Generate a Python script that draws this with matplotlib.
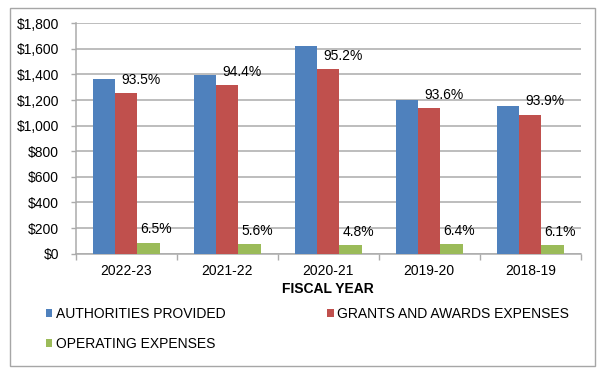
import numpy as np
import matplotlib
matplotlib.use('Agg')
import matplotlib.pyplot as plt
from matplotlib.patches import Rectangle

plt.rcParams['font.family'] = ['Liberation Sans', 'DejaVu Sans']

# Data
years = ['2022-23', '2021-22', '2020-21', '2019-20', '2018-19']
authorities = [1362, 1394, 1625, 1201, 1156]
grants = [1255, 1318, 1445, 1136, 1086]
operating = [86, 76, 70, 73, 68]
grants_pct = ['93.5%', '94.4%', '95.2%', '93.6%', '93.9%']
operating_pct = ['6.5%', '5.6%', '4.8%', '6.4%', '6.1%']

blue = '#4F81BD'
red = '#C0504D'
green = '#9BBB59'
grid_gray = '#ABABAB'

fig = plt.figure(figsize=(6.05, 3.75), dpi=100)
ax = fig.add_axes([75.7 / 605, 1 - 253.7 / 375, 505 / 605, 230.4 / 375])

x = np.arange(len(years))
w = 0.221
b1 = ax.bar(x - w, authorities, w, color=blue, label='AUTHORITIES PROVIDED', zorder=3)
b2 = ax.bar(x, grants, w, color=red, label='GRANTS AND AWARDS EXPENSES', zorder=3)
b3 = ax.bar(x + w, operating, w, color=green, label='OPERATING EXPENSES', zorder=3)

# percentage labels
for i in range(len(years)):
    ax.annotate(grants_pct[i], xy=(x[i], grants[i]), xytext=(10.4, 9.5),
                textcoords='offset points', ha='center', va='center', fontsize=10, zorder=4)
    ax.annotate(operating_pct[i], xy=(x[i], operating[i]), xytext=(21.6, 9.5),
                textcoords='offset points', ha='center', va='center', fontsize=10, zorder=4)

ax.set_xlim(-0.5, len(years) - 0.5)
ax.set_ylim(0, 1800)
ax.set_yticks(np.arange(0, 1801, 200))
ax.set_yticklabels(['${:,}'.format(v) for v in range(0, 1801, 200)], fontsize=10)
ax.yaxis.grid(True, color=grid_gray, linewidth=1.1, zorder=0)

ax.set_xticks(x)
ax.set_xticklabels(years, fontsize=10)
ax.set_xticks(np.arange(-0.5, len(years)), minor=True)
ax.tick_params(axis='x', which='major', length=0, pad=7.5)
ax.tick_params(axis='x', which='minor', length=4, color=grid_gray, width=1)
ax.tick_params(axis='y', length=3.5, color=grid_gray, width=1, pad=8.5)

for s in ['top', 'right']:
    ax.spines[s].set_visible(False)
for s in ['left', 'bottom']:
    ax.spines[s].set_color(grid_gray)
    ax.spines[s].set_linewidth(1.1)

fig.text(328 / 605, 1 - 289 / 375, 'FISCAL YEAR', ha='center', va='center',
         fontsize=10, fontweight='bold')

# legend filled column-wise, so order gives rows: auth+grants, then operating
handles = [b1, b3, b2]
labels = [h.get_label() for h in handles]
leg = fig.legend(handles, labels, loc='upper left', bbox_to_anchor=(46 / 605, 1 - 307 / 375),
                 ncol=2, frameon=False, fontsize=10, borderpad=0, borderaxespad=0,
                 handlelength=0.45, handleheight=0.45, handletextpad=0.25,
                 labelspacing=1.15, columnspacing=7.35)

# outer border
fig.patches.append(Rectangle((9.5 / 605, 1 - 366 / 375), 585 / 605, 358 / 375,
                             transform=fig.transFigure, fill=False,
                             edgecolor='#A6A6A6', linewidth=1))

fig.savefig('out.png', dpi=100)
